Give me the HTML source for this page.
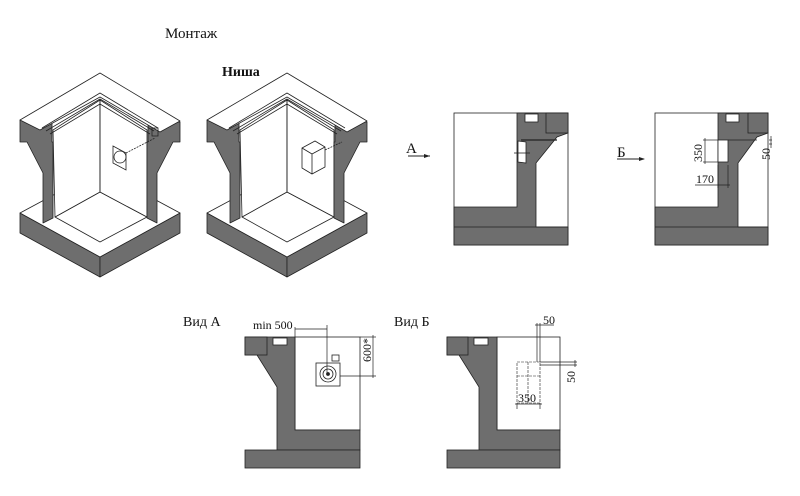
<!DOCTYPE html>
<html><head><meta charset="utf-8"><style>
html,body{margin:0;padding:0;background:#fff;}
svg{display:block;}
text{font-family:"Liberation Serif",serif;fill:#111;}
</style></head><body>
<svg width="800" height="496" viewBox="0 0 800 496" xmlns="http://www.w3.org/2000/svg">
<defs>
<g id="iso" stroke="#222" stroke-width="0.8" stroke-linejoin="round">
  <polygon points="20,213 100,257 100,277 20,233" fill="#6e6e6e"/>
  <polygon points="100,257 180,213 180,233 100,277" fill="#6e6e6e"/>
  <polygon points="20,213 100,170 180,213 100,257" fill="#fff"/>
  <polygon points="55,217 100,192 147,217 100,242" fill="#fff"/>
  <polygon points="53,130 100,100 100,192 55,217" fill="#fff"/>
  <polygon points="100,100 147,130 147,217 100,192" fill="#fff"/>
  <line x1="100" y1="100" x2="100" y2="192"/>
  <polygon points="20,120 52,120 52,142 53,142 53,218 43,223 43,173 27,142 20,142" fill="#6e6e6e"/>
  <polygon points="148,122 180,122 180,142 173,142 157,173 157,223 147,218 147,142 148,142" fill="#6e6e6e"/>
  <polygon points="20,120 100,73 180,121 160,132 100,97 40,130" fill="#fff"/>
  <polyline points="42,128 100,93 158,128" fill="none"/>
  <polyline points="46,131 100,99 154,131" fill="none"/>
  <polyline points="50,134 100,104 150,134" fill="none"/>
</g>
</defs>
<text x="165" y="38" font-size="15">Монтаж</text>
<text x="222" y="76" font-size="14" font-weight="bold">Ниша</text>

<use href="#iso"/>
<use href="#iso" transform="translate(187,0)"/>
<g stroke="#222" stroke-width="0.8" fill="none">
<polygon points="113,146 126,153 126,170 113,163" fill="#fff"/>
<circle cx="120" cy="157" r="6"/>
<line x1="126" y1="153" x2="155" y2="138" stroke-dasharray="2,1"/>
<rect x="152" y="128" width="6" height="8"/>
<polygon points="302,148 315,141 325,147 325,167 312,174 302,168" fill="#fff"/>
<line x1="312" y1="154" x2="312" y2="174"/><line x1="302" y1="148" x2="312" y2="154"/><line x1="312" y1="154" x2="325" y2="147"/>
<line x1="325" y1="150" x2="342" y2="142" stroke-dasharray="2,1"/>
</g>

<!-- Section A -->
<g stroke="#222" stroke-width="0.8">
<rect x="454" y="113" width="114" height="132" fill="#fff"/>
<polygon points="517,113 568,113 568,133 557,137 536,163 536,227 568,227 568,245 454,245 454,207 517,207" fill="#6e6e6e"/>
<line x1="454" y1="227" x2="568" y2="227"/>
<rect x="546" y="113" width="22" height="20" fill="#6e6e6e"/>
<rect x="525" y="114" width="13" height="8" fill="#fff"/>
<polygon points="518,141 526,142 526,163 518,162" fill="#fff"/>
<line x1="521" y1="140" x2="557" y2="140" stroke-width="1.2"/>
<line x1="514" y1="153" x2="530" y2="153"/>
</g>
<text x="406" y="153" font-size="15">А</text>
<line x1="408" y1="156" x2="430" y2="156" stroke="#222" stroke-width="1"/>
<polygon points="430,156 424,154 424,158" fill="#222"/>

<!-- Section B -->
<g stroke="#222" stroke-width="0.8">
<rect x="655" y="113" width="113" height="132" fill="#fff"/>
<polygon points="718,113 768,113 768,133 757,137 738,163 738,227 768,227 768,245 655,245 655,207 718,207" fill="#6e6e6e"/>
<line x1="655" y1="227" x2="768" y2="227"/>
<rect x="748" y="113" width="20" height="20" fill="#6e6e6e"/>
<rect x="726" y="114" width="13" height="8" fill="#fff"/>
<rect x="718" y="140" width="10" height="22" fill="#fff"/>
<line x1="728" y1="140" x2="757" y2="140"/>
<g fill="none" stroke-width="0.7">
<line x1="703" y1="140" x2="718" y2="140"/><line x1="703" y1="162" x2="718" y2="162"/>
<line x1="705" y1="138" x2="705" y2="164"/>
<line x1="728" y1="165" x2="728" y2="188"/><line x1="718" y1="165" x2="718" y2="188"/>
<line x1="695" y1="185" x2="730" y2="185"/>
<line x1="769" y1="140" x2="772" y2="140"/><line x1="769" y1="144" x2="772" y2="144"/>
<line x1="771" y1="136" x2="771" y2="148"/>
</g>
</g>
<text x="617" y="157" font-size="15">Б</text>
<line x1="617" y1="159" x2="644" y2="159" stroke="#222" stroke-width="1"/>
<polygon points="645,159 639,157 639,161" fill="#222"/>
<text font-size="12" transform="translate(702,162) rotate(-90)">350</text>
<text x="696" y="183" font-size="12">170</text>
<text font-size="12" transform="translate(770,160) rotate(-90)">50</text>

<!-- Vid A -->
<text x="183" y="326" font-size="14">Вид А</text>
<g stroke="#222" stroke-width="0.8">
<rect x="295" y="337" width="65" height="93" fill="#fff"/>
<polygon points="245,337 295,337 295,430 360,430 360,450 277,450 277,387 257,355 245,355" fill="#6e6e6e"/>
<rect x="245" y="337" width="22" height="18" fill="#6e6e6e"/>
<rect x="245" y="450" width="115" height="18" fill="#6e6e6e"/>
<rect x="273" y="338" width="14" height="7" fill="#fff"/>
<rect x="316" y="363" width="24" height="23" fill="#fff"/>
<circle cx="328" cy="374" r="8" fill="none"/><circle cx="328" cy="374" r="5" fill="none"/><circle cx="328" cy="374" r="1.5" fill="#222"/>
<rect x="332" y="355" width="7" height="6" fill="#fff"/>
<g fill="none" stroke-width="0.7">
<line x1="295" y1="329" x2="327" y2="329"/><line x1="295" y1="327" x2="295" y2="337"/>
<line x1="327" y1="325" x2="327" y2="374"/>
<line x1="360" y1="337" x2="376" y2="337"/><line x1="340" y1="376" x2="376" y2="376"/>
<line x1="373" y1="335" x2="373" y2="378"/>
</g>
</g>
<text x="253" y="329" font-size="12">min 500</text>
<text font-size="12" transform="translate(371,362) rotate(-90)">600*</text>

<!-- Vid B -->
<text x="394" y="326" font-size="14">Вид Б</text>
<g stroke="#222" stroke-width="0.8">
<rect x="497" y="337" width="63" height="93" fill="#fff"/>
<polygon points="447,337 497,337 497,430 560,430 560,450 479,450 479,387 459,355 447,355" fill="#6e6e6e"/>
<rect x="447" y="337" width="21" height="18" fill="#6e6e6e"/>
<rect x="447" y="450" width="113" height="18" fill="#6e6e6e"/>
<rect x="474" y="338" width="14" height="7" fill="#fff"/>
<g fill="none" stroke-width="0.6" stroke-dasharray="3,1">
<rect x="517" y="362" width="23" height="41"/>
<line x1="517" y1="376" x2="540" y2="376"/><line x1="528" y1="362" x2="528" y2="403"/>
</g>
<g fill="none" stroke-width="0.7">
<line x1="537" y1="323" x2="537" y2="362"/><line x1="540" y1="323" x2="540" y2="362"/>
<line x1="535" y1="325" x2="554" y2="325"/>
<line x1="540" y1="362" x2="577" y2="362"/><line x1="540" y1="365" x2="577" y2="365"/>
<line x1="575" y1="360" x2="575" y2="367"/>
<line x1="517" y1="403" x2="517" y2="409"/><line x1="540" y1="403" x2="540" y2="409"/>
<line x1="515" y1="404" x2="542" y2="404"/>
</g>
</g>
<text x="543" y="324" font-size="12">50</text>
<text font-size="12" transform="translate(575,383) rotate(-90)">50</text>
<text x="518" y="402" font-size="12">350</text>
</svg>
</body></html>
